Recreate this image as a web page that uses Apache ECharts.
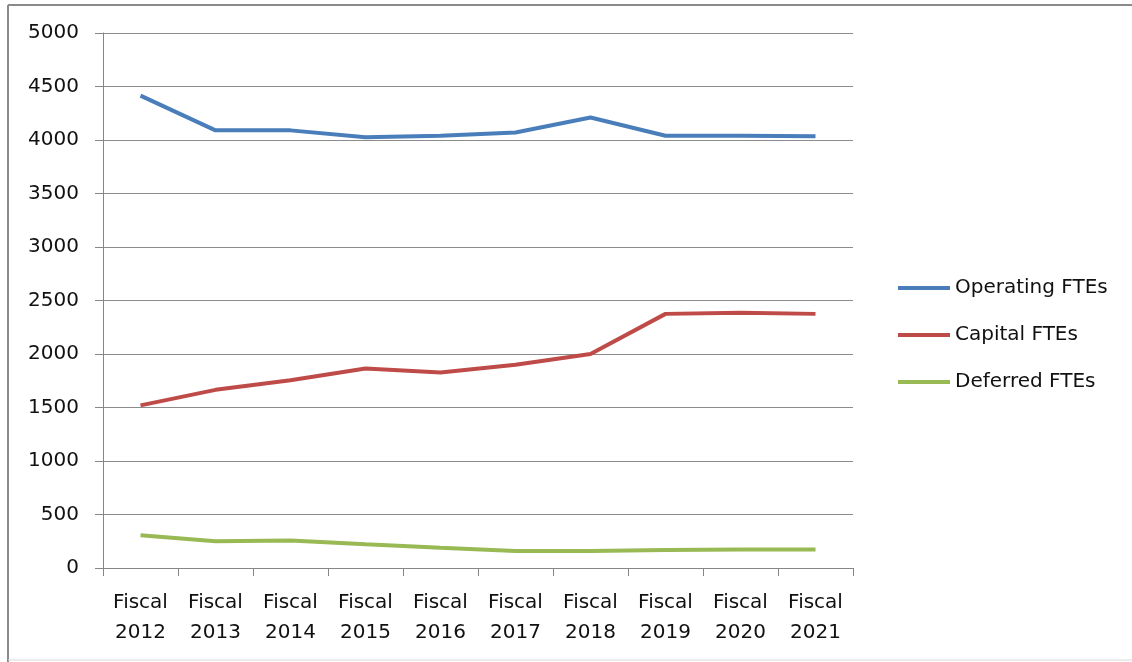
<!DOCTYPE html>
<html>
<head>
<meta charset="utf-8">
<script src="https://cdn.jsdelivr.net/npm/echarts@6/dist/echarts.min.js"></script>
<style>html,body{margin:0;padding:0;background:#fff;}#c{width:1132px;height:662px;}</style>
</head>
<body>
<div id="c"></div>
<script>
const categories = ['Fiscal\n2012','Fiscal\n2013','Fiscal\n2014','Fiscal\n2015','Fiscal\n2016','Fiscal\n2017','Fiscal\n2018','Fiscal\n2019','Fiscal\n2020','Fiscal\n2021'];
const operatingFTEs = [4415, 4090, 4090, 4025, 4040, 4070, 4210, 4040, 4040, 4035];
const capitalFTEs   = [1520, 1665, 1755, 1865, 1828, 1900, 2000, 2375, 2385, 2375];
const deferredFTEs  = [305, 250, 258, 222, 190, 160, 160, 168, 172, 172];
const seriesNames = ['Operating FTEs', 'Capital FTEs', 'Deferred FTEs'];
const yTicks = { min: 0, max: 5000, interval: 500 };

const font = '"DejaVu Sans", sans-serif';
const chart = echarts.init(document.getElementById('c'), null, { renderer: 'canvas' });
const colors = ['#4A7EBB', '#BE4B48', '#98B954'];
const data = [operatingFTEs, capitalFTEs, deferredFTEs];
chart.setOption({
  animation: false,
  backgroundColor: '#fff',
  color: colors,
  graphic: [
    { type: 'line', shape: { x1: 8, y1: 5, x2: 1132, y2: 5 }, style: { stroke: '#8a8a8a', lineWidth: 2 } },
    { type: 'line', shape: { x1: 8, y1: 5, x2: 8, y2: 662 }, style: { stroke: '#8a8a8a', lineWidth: 2 } },
    { type: 'line', shape: { x1: 8, y1: 660, x2: 1132, y2: 660 }, style: { stroke: '#d8d8d8', lineWidth: 1 } }
  ],
  grid: { left: 103, right: 279, top: 33, bottom: 94, containLabel: false },
  legend: {
    orient: 'vertical',
    left: 893,
    top: 273,
    icon: 'rect',
    itemWidth: 52,
    itemHeight: 4,
    itemGap: 27,
    data: seriesNames,
    textStyle: { fontFamily: font, fontSize: 20, color: '#111', lineHeight: 20 }
  },
  xAxis: {
    type: 'category',
    data: categories,
    boundaryGap: true,
    axisLine: { lineStyle: { color: '#868686', width: 1 } },
    axisTick: { show: true, length: 8, alignWithLabel: false, lineStyle: { color: '#868686' } },
    axisLabel: { fontFamily: font, fontSize: 20, color: '#111', lineHeight: 30, margin: 20, interval: 0 },
    splitLine: { show: false }
  },
  yAxis: {
    type: 'value',
    min: yTicks.min, max: yTicks.max, interval: yTicks.interval,
    axisLine: { show: true, lineStyle: { color: '#868686', width: 1 } },
    axisTick: { show: true, length: 8, lineStyle: { color: '#868686' } },
    axisLabel: { fontFamily: font, fontSize: 20, color: '#111', margin: 24, formatter: v => String(v) },
    splitLine: { show: true, lineStyle: { color: '#8c8c8c', width: 1 } }
  },
  series: seriesNames.map((n, i) => ({
    name: n,
    type: 'line',
    data: data[i],
    showSymbol: false,
    symbol: 'none',
    lineStyle: { width: 4, color: colors[i] },
    itemStyle: { color: colors[i] }
  }))
});
</script>
</body>
</html>
